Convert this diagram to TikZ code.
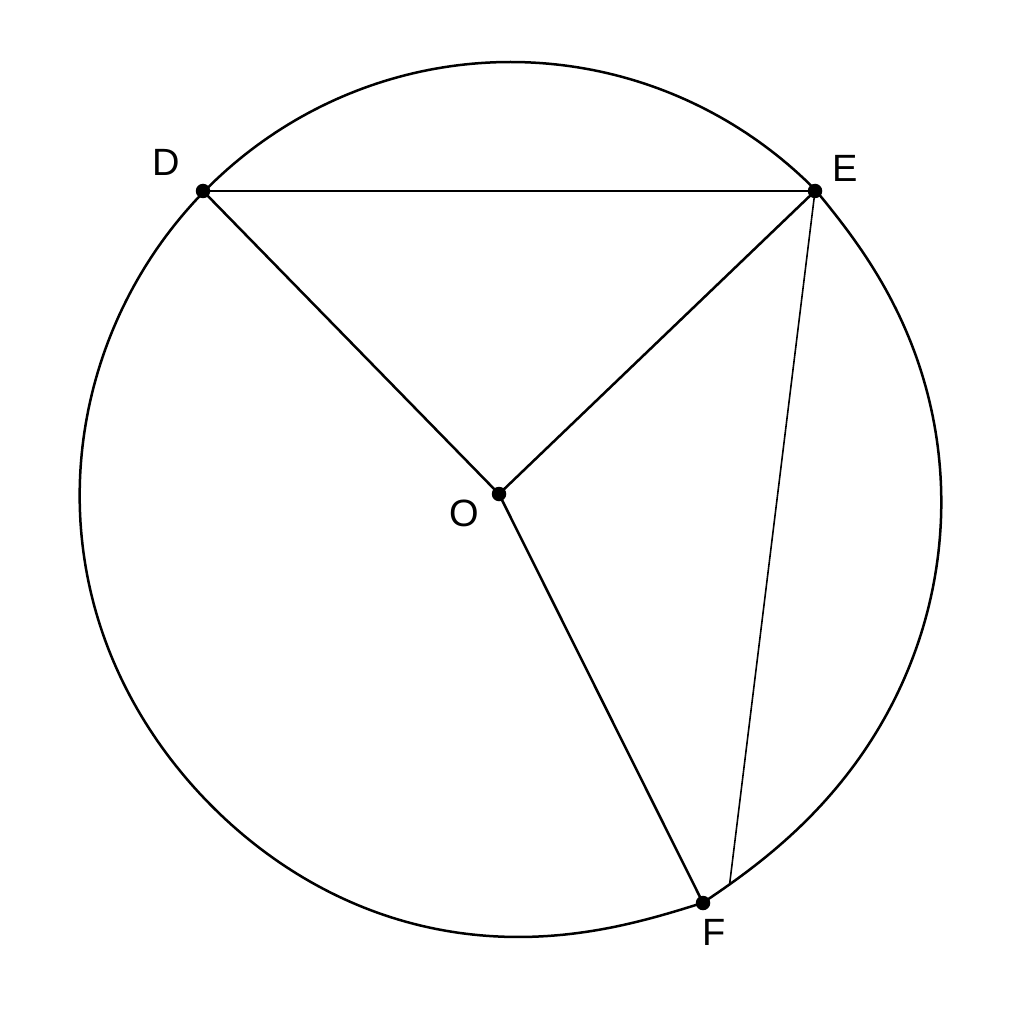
\documentclass[tikz,border=0pt]{standalone}
\usepackage{fontspec}
\setmainfont{Liberation Sans}
\begin{document}
\begin{tikzpicture}[x=1pt,y=-1pt,
  edge/.style={line width=2.5pt},
  thinedge/.style={line width=1.6pt},
  rim/.style={line width=2.5pt,line join=round},
  dot/.style={circle,fill=black,inner sep=0pt,minimum size=14.5pt},
  lbl/.style={font=\fontsize{38}{38}\selectfont,inner sep=0pt},
  declare function={
    fb(\t)=0.024*exp(-min(max(64.2-\t,0)/10+max(\t-64.2,0)/9,20));
    ll(\t)=-0.015*exp(-min(((\t-135)/30)^2,20));
    eu(\t)=max(\t+45,0)/12;
    ed(\t)=-0.007*eu(\t)*exp(1-min(eu(\t),20));
    sc(\t)=1+fb(\t)+ll(\t)+ed(\t);
  }]
\useasboundingbox[fill=white] (0,0) rectangle (1024,1024);
\node[dot] (D) at (203,191) {};
\node[dot] (E) at (815,191) {};
\node[dot] (O) at (499,494) {};
\node[dot] (F) at (703,903) {};
\coordinate (G) at (729.5,885);
\draw[rim] plot[domain=-90:270,samples=1441,variable=\t]
  ({510.5+431.5*sc(\t)*cos(\t)},{499.5+437.5*sc(\t)*sin(\t)}) -- cycle;
\draw[edge] (D.center) -- (E.center);
\draw[edge] (D.center) -- (O.center) -- (E.center);
\draw[edge] (O.center) -- (F.center);
\draw[thinedge] (E.center) -- (G);
\node[lbl] (Dl) at (166,162) {D};
\node[lbl] (El) at (845,168) {E};
\node[lbl] (Ol) at (464,513) {O};
\node[lbl] (Fl) at (714,932) {F};
\end{tikzpicture}
\end{document}
